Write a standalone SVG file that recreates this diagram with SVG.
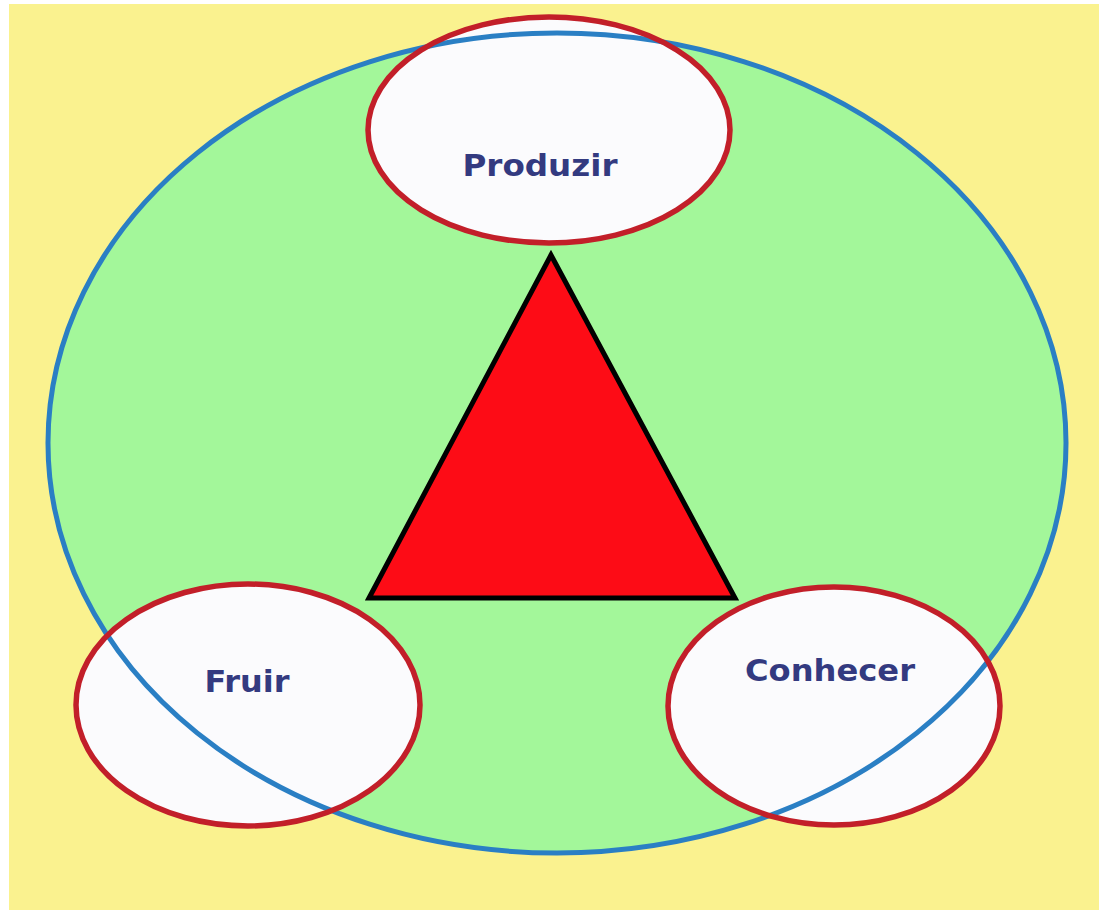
<svg xmlns="http://www.w3.org/2000/svg" width="1099" height="910" viewBox="0 0 1099 910">
<style>
.lbl{font-family:"DejaVu Sans","Liberation Sans",sans-serif;font-weight:bold;font-size:31px;fill:#333a80;text-anchor:middle}
.ring{fill:none;stroke:#c21f29;stroke-width:5.5}
.fillw{fill:#fbfbfd}
</style>
<rect x="0" y="0" width="1099" height="910" fill="#ffffff"/>
<rect x="9" y="4" width="1090" height="906" fill="#faf28f"/>
<g id="area">
<ellipse cx="557" cy="443" rx="509" ry="410" fill="#a3f79a"/>
</g>
<g id="whites">
<ellipse class="fillw" cx="549" cy="130" rx="181" ry="113"/>
<ellipse class="fillw" cx="248" cy="705" rx="172" ry="121"/>
<ellipse class="fillw" cx="834" cy="706" rx="166" ry="119"/>
</g>
<g id="boundary">
<ellipse cx="557" cy="443" rx="509" ry="410" fill="none" stroke="#2a7fc4" stroke-width="5"/>
</g>
<g id="triangle">
<polygon points="551,255 369,598 735,598" fill="#fd0c16" stroke="#000" stroke-width="5" stroke-linejoin="miter"/>
</g>
<g id="produzir">
<ellipse class="ring" cx="549" cy="130" rx="181" ry="113"/>
<text class="lbl" x="540" y="176" textLength="155" lengthAdjust="spacingAndGlyphs">Produzir</text>
</g>
<g id="fruir">
<ellipse class="ring" cx="248" cy="705" rx="172" ry="121"/>
<text class="lbl" x="247" y="692" textLength="85" lengthAdjust="spacingAndGlyphs">Fruir</text>
</g>
<g id="conhecer">
<ellipse class="ring" cx="834" cy="706" rx="166" ry="119"/>
<text class="lbl" x="830" y="681" textLength="170" lengthAdjust="spacingAndGlyphs">Conhecer</text>
</g>
<g id="connectors"></g>
</svg>
